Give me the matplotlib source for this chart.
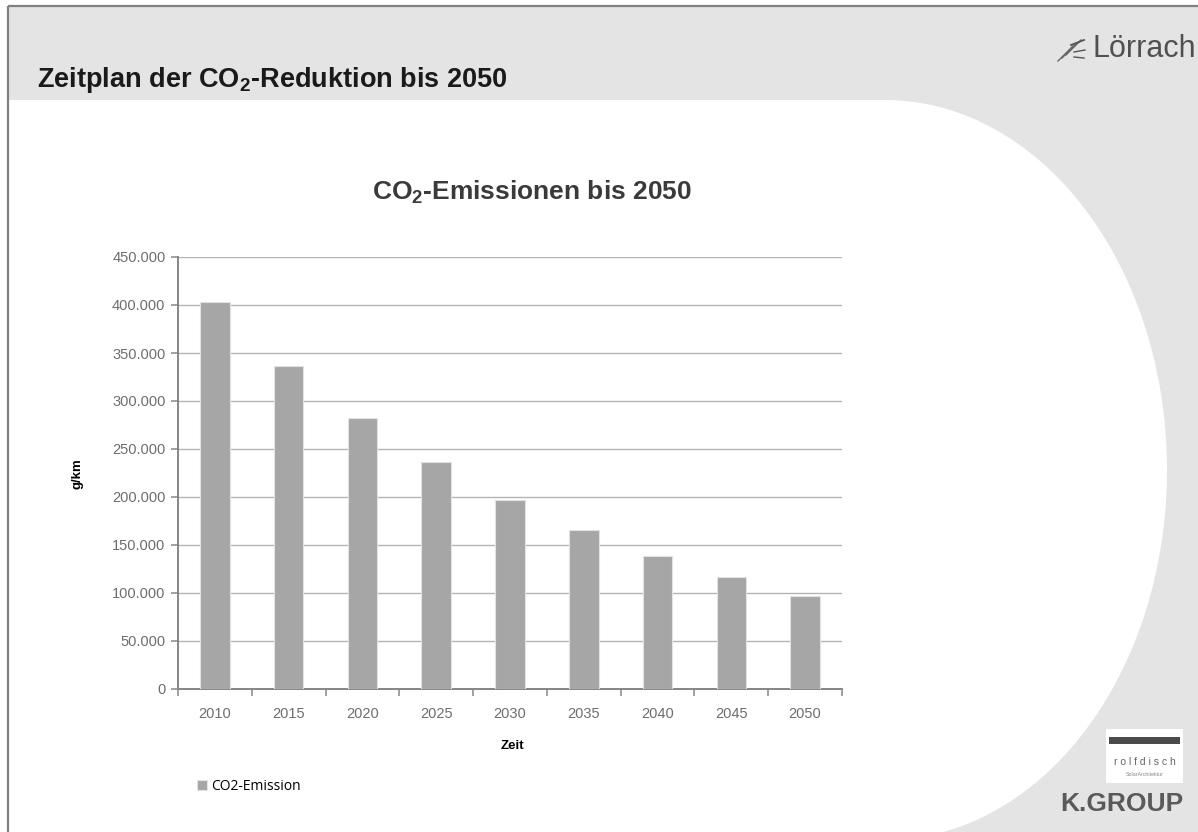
import numpy as np
import matplotlib
matplotlib.use('Agg')
import matplotlib.pyplot as plt
from matplotlib.patches import Polygon, Rectangle
from matplotlib.ticker import FuncFormatter, MultipleLocator, FixedLocator

# ─── Data ────────────────────────────────────────────────────────────────────
years = ['2010', '2015', '2020', '2025', '2030', '2035', '2040', '2045', '2050']
emissions = [402800, 336300, 282700, 236800, 197300, 166000, 138300, 116300, 96600]
series_name = 'CO2-Emission'

# ─── Style ───────────────────────────────────────────────────────────────────
plt.rcParams['font.family'] = ['Liberation Sans', 'DejaVu Sans']
plt.rcParams['mathtext.fontset'] = 'custom'
plt.rcParams['mathtext.rm'] = 'Liberation Sans'
plt.rcParams['mathtext.bf'] = 'Liberation Sans:bold'

GRAY_BG = '#e4e4e4'
BORDER = '#808080'
BAR = '#a6a6a6'
AXIS = '#868686'
GRID = '#b4b4b4'
TICKTXT = '#6e6e6e'

W, H = 1198, 832
fig = plt.figure(figsize=(W / 100, H / 100), dpi=100, facecolor='white')

# ─── Slide background (pixel coordinates) ────────────────────────────────────
bg = fig.add_axes([0, 0, 1, 1], zorder=0)
bg.set_xlim(0, W)
bg.set_ylim(H, 0)
bg.axis('off')

bg.add_patch(Rectangle((8, 6), W - 8, H - 6, facecolor=GRAY_BG, edgecolor='none'))

# white content area with the elliptical right edge
cx, cy, ea, eb = 885, 470, 282, 370
t = np.linspace(-np.pi / 2, np.pi / 2, 200)
arc = np.column_stack([cx + ea * np.cos(t), cy + eb * np.sin(t)])
shape = np.vstack([[[8, 100]], arc, [[8, 840]]])
bg.add_patch(Polygon(shape, closed=True, facecolor='white', edgecolor='none'))

# border lines
bg.plot([8, W], [6, 6], color=BORDER, lw=1.6, solid_capstyle='butt')
bg.plot([8, 8], [6, H], color=BORDER, lw=1.6, solid_capstyle='butt')

# slide title
bg.text(37, 80, r'Zeitplan der CO$_\mathbf{2}$-Reduktion bis 2050', fontsize=19.5,
        fontweight='bold', color='#1a1a1a', ha='left', va='center')

# Lörrach logo
bg.text(1196, 49, 'Lörrach', fontsize=22, color='#505050', ha='right', va='center',
        family=['Liberation Sans Narrow', 'Liberation Sans'])
for dx, dy in [(0, 0), (4, -3), (8, -6)]:
    bg.plot([1058 + dx, 1066 + dx, 1073 + dx], [61 + dy, 53 + dy, 46 + dy],
            color='#666666', lw=1.0)
bg.plot([1071, 1084], [45, 40], color='#555555', lw=1.3)
bg.plot([1074, 1085], [52, 50], color='#555555', lw=1.0)
bg.plot([1074, 1084], [57, 58], color='#555555', lw=1.0)

# rolfdisch / K.GROUP logo
bg.add_patch(Rectangle((1106, 729), 77, 54, facecolor='white', edgecolor='none'))
bg.add_patch(Rectangle((1109, 737), 71, 7, facecolor='#4a4a4a', edgecolor='none'))
bg.text(1144.5, 762, 'r o l f d i s c h', fontsize=7.5, color='#666666',
        ha='center', va='center')
bg.text(1144.5, 775, 'SolarArchitektur', fontsize=3.8, color='#888888',
        ha='center', va='center')
bg.text(1183, 804, 'K.GROUP', fontsize=19, fontweight='bold', color='#5a5a5a',
        ha='right', va='center')

# ─── Chart ───────────────────────────────────────────────────────────────────
left, right, top, bottom = 178, 842, 257, 689
ax = fig.add_axes([left / W, 1 - bottom / H, (right - left) / W, (bottom - top) / H],
                  zorder=2)
ax.set_facecolor('none')

x = np.arange(len(years))
bars = ax.bar(x, emissions, width=0.4, color=BAR, edgecolor='#e2e2e2', lw=0.8,
              label=series_name, zorder=3)

ax.set_xlim(-0.5, len(years) - 0.5)
ax.set_ylim(0, 450000)
ax.yaxis.set_major_locator(MultipleLocator(50000))
ax.yaxis.set_major_formatter(FuncFormatter(
    lambda v, p: '0' if v == 0 else f'{v:,.0f}'.replace(',', '.')))
ax.grid(axis='y', color=GRID, lw=1.0, zorder=0)
ax.set_axisbelow(True)

ax.set_xticks(x)
ax.set_xticklabels(years)
ax.xaxis.set_minor_locator(FixedLocator(np.arange(-0.5, len(years), 1.0)))
ax.tick_params(axis='x', which='major', length=0, pad=13, labelsize=10.5,
               labelcolor=TICKTXT)
ax.tick_params(axis='x', which='minor', length=5, width=1.1, color=AXIS,
               direction='out')
ax.tick_params(axis='y', length=5, width=1.1, color=AXIS, direction='out',
               labelsize=10.5, labelcolor=TICKTXT, pad=4)

for s in ['top', 'right']:
    ax.spines[s].set_visible(False)
for s in ['left', 'bottom']:
    ax.spines[s].set_color(AXIS)
    ax.spines[s].set_linewidth(1.4)

# titles
fig.text(532 / W, 1 - 192 / H, r'CO$_\mathbf{2}$-Emissionen bis 2050', fontsize=19,
         fontweight='bold', color='#3a3a3a', ha='center', va='center')
fig.text(512 / W, 1 - 746 / H, 'Zeit', fontsize=9.5, fontweight='bold',
         color='black', ha='center', va='center')
fig.text(78 / W, 1 - 474 / H, 'g/km', fontsize=9.5, fontweight='bold',
         color='black', ha='center', va='center', rotation=90)

# legend
ax.legend(loc='center left', bbox_to_anchor=(197 / W, 1 - 786 / H),
          bbox_transform=fig.transFigure, frameon=False,
          handlelength=0.75, handleheight=0.75, handletextpad=0.25,
          borderpad=0, borderaxespad=0,
          prop={'family': ['Open Sans', 'DejaVu Sans'], 'size': 10})

plt.savefig('out.png', dpi=100, facecolor='white')
plt.close()
